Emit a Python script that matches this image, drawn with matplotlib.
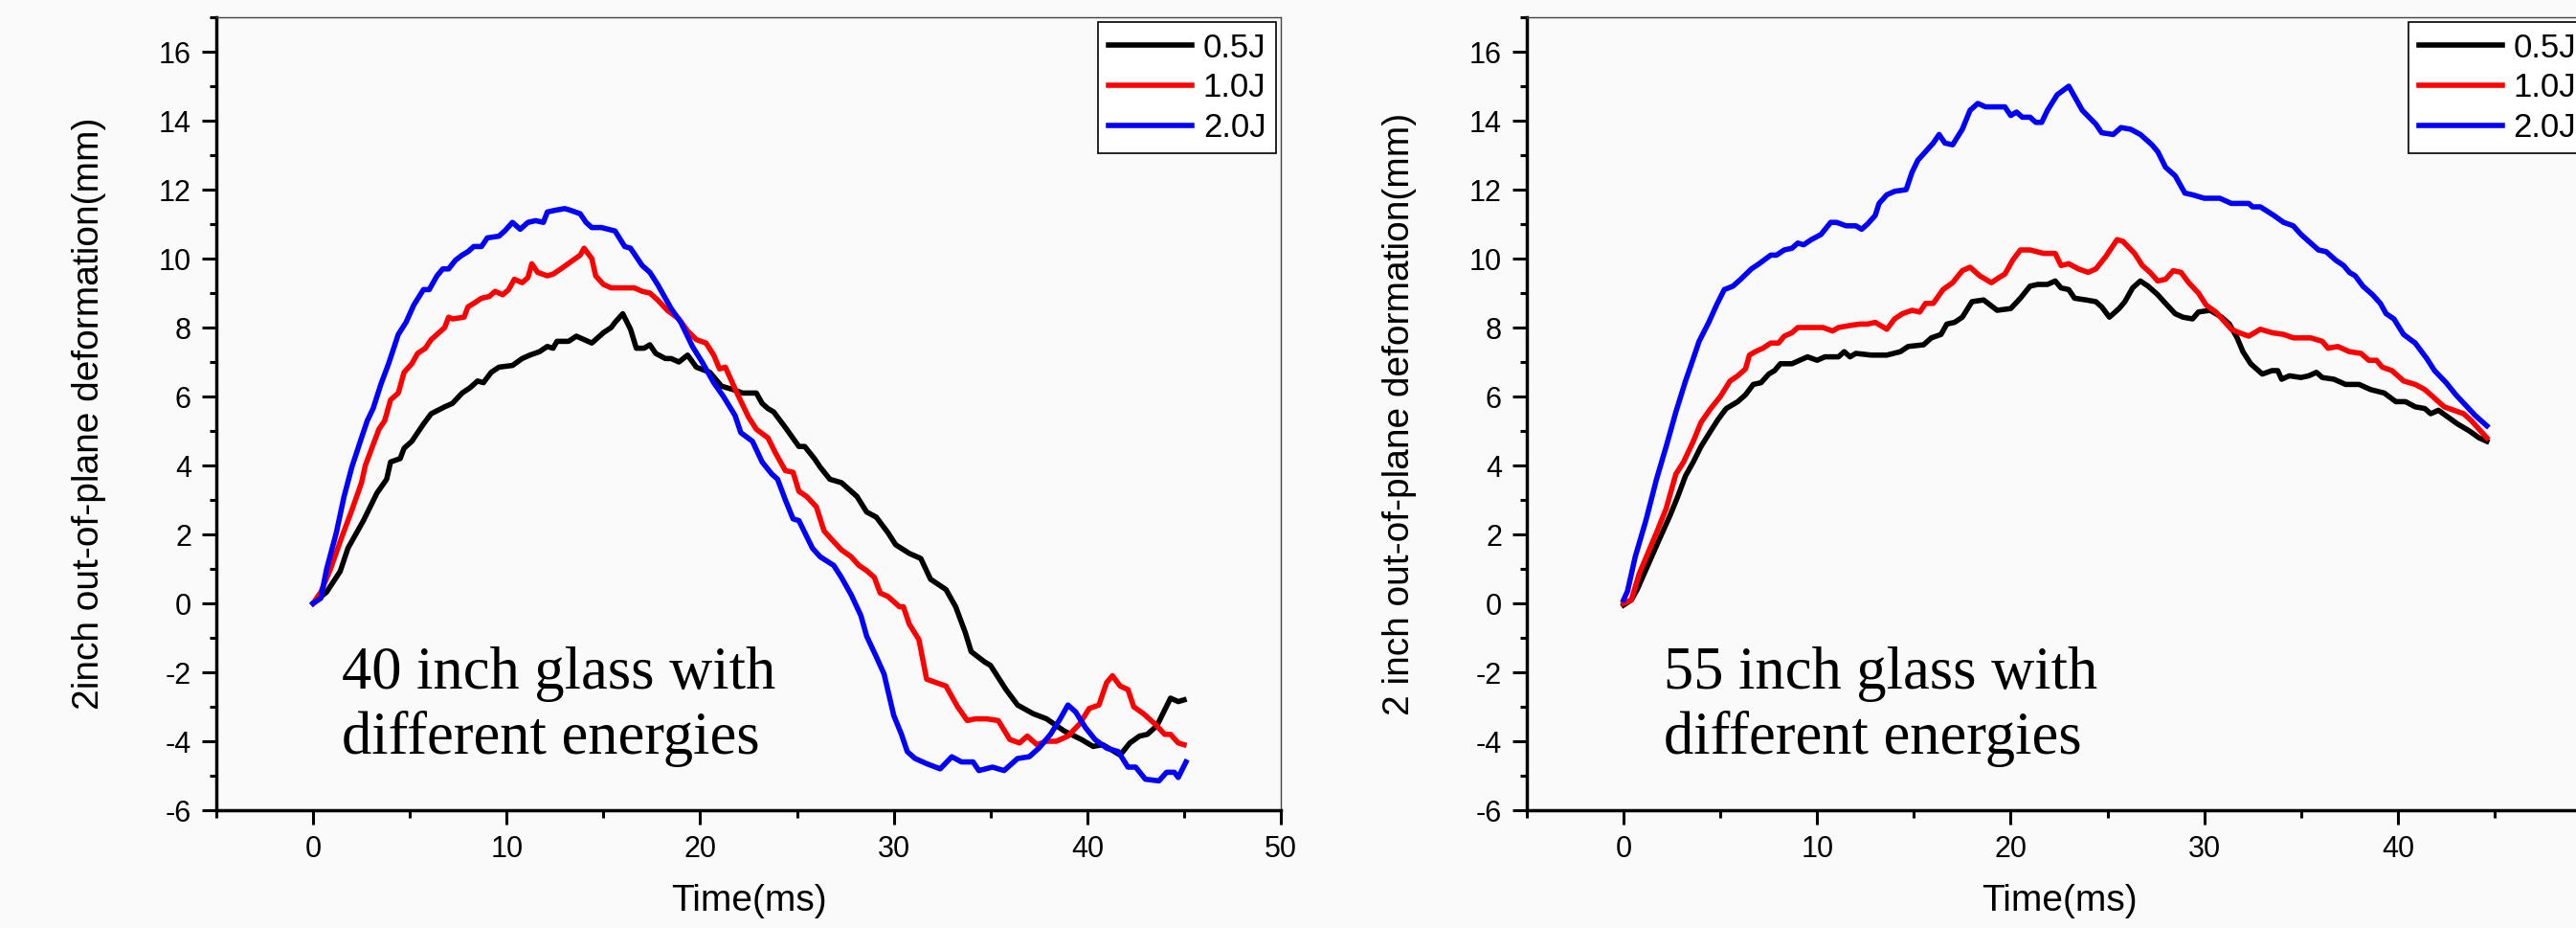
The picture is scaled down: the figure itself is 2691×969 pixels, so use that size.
import numpy as np
import matplotlib.pyplot as plt
from matplotlib.ticker import MultipleLocator, FixedLocator

plt.rcParams['font.family'] = 'Liberation Sans'
plt.rcParams['axes.unicode_minus'] = False

labels = ['0.5J', '1.0J', '2.0J']
colors = ['black', 'red', 'blue']

# 40 inch glass: (time ms, deformation mm)
g40_05 = [(0, 0), (0.7, 0.33), (1.4, 0.93), (1.8, 1.6), (2.6, 2.4), (3.3, 3.2), (3.8, 3.6),
          (4.0, 4.1), (4.5, 4.2), (4.7, 4.5), (5.1, 4.7), (5.7, 5.2), (6.1, 5.5), (6.8, 5.7),
          (7.2, 5.8), (7.7, 6.1), (8.1, 6.25), (8.5, 6.45), (8.8, 6.4), (9.2, 6.7), (9.6, 6.85),
          (10.3, 6.9), (10.8, 7.1), (11.2, 7.2), (11.7, 7.3), (12.1, 7.45), (12.4, 7.4),
          (12.6, 7.6), (13.2, 7.6), (13.6, 7.75), (14.0, 7.65), (14.4, 7.55), (15.0, 7.85),
          (15.4, 8.0), (15.6, 8.15), (16.0, 8.4), (16.4, 7.95), (16.7, 7.4), (17.1, 7.4),
          (17.4, 7.5), (17.7, 7.25), (18.2, 7.1), (18.5, 7.1), (18.9, 7.0), (19.35, 7.2),
          (19.8, 6.85), (20.5, 6.7), (21.1, 6.3), (21.7, 6.2), (22.2, 6.1), (22.9, 6.1),
          (23.2, 5.8), (23.5, 5.65), (23.8, 5.55), (24.4, 5.1), (25.1, 4.55), (25.4, 4.55),
          (25.9, 4.2), (26.2, 3.95), (26.7, 3.6), (27.3, 3.5), (27.8, 3.25), (28.1, 3.1),
          (28.6, 2.65), (29.1, 2.5), (29.7, 2.05), (30.1, 1.7), (30.8, 1.45), (31.4, 1.3),
          (31.9, 0.7), (32.7, 0.4), (33.2, -0.1), (33.7, -0.85), (34.0, -1.4), (34.7, -1.7),
          (35.0, -1.8), (35.8, -2.5), (36.4, -2.95), (37.2, -3.2), (37.9, -3.35), (38.8, -3.7),
          (39.7, -3.95), (40.3, -4.15), (40.8, -4.1), (41.7, -4.4), (42.2, -4.05), (42.7, -3.85),
          (43.1, -3.8), (43.6, -3.55), (44.3, -2.75), (44.7, -2.85), (45.0, -2.8)]
g40_10 = [(0, 0), (0.4, 0.33), (0.9, 1.0), (1.5, 1.95), (2.0, 2.7), (2.5, 3.5), (2.7, 4.0),
          (3.0, 4.45), (3.4, 5.05), (3.7, 5.3), (4.0, 5.9), (4.4, 6.1), (4.7, 6.7), (5.1, 6.95),
          (5.4, 7.25), (5.8, 7.4), (6.1, 7.65), (6.6, 7.9), (6.8, 8.0), (7.0, 8.3), (7.2, 8.25),
          (7.8, 8.3), (8.0, 8.6), (8.3, 8.7), (8.7, 8.85), (9.1, 8.9), (9.4, 9.05), (9.8, 8.95),
          (10.1, 9.1), (10.4, 9.4), (10.8, 9.3), (11.1, 9.45), (11.3, 9.85), (11.6, 9.6),
          (12.1, 9.5), (12.4, 9.55), (12.8, 9.7), (13.3, 9.9), (13.8, 10.1), (14.0, 10.3),
          (14.4, 10.0), (14.6, 9.5), (15.0, 9.25), (15.4, 9.15), (16.1, 9.15), (16.6, 9.15),
          (17.0, 9.05), (17.4, 9.0), (17.8, 8.8), (18.3, 8.5), (18.9, 8.25), (19.35, 7.9),
          (19.8, 7.65), (20.3, 7.55), (20.7, 7.2), (21.0, 6.8), (21.3, 6.85), (21.9, 6.1),
          (22.5, 5.4), (22.9, 5.05), (23.5, 4.8), (23.9, 4.35), (24.4, 3.85), (24.8, 3.8),
          (25.1, 3.25), (25.5, 3.1), (26.0, 2.8), (26.4, 2.1), (26.8, 1.85), (27.3, 1.55),
          (27.8, 1.35), (28.2, 1.1), (28.6, 0.95), (29.0, 0.75), (29.3, 0.3), (29.7, 0.2),
          (30.3, -0.1), (30.5, -0.1), (30.8, -0.6), (31.3, -1.05), (31.7, -2.2), (32.7, -2.4),
          (33.3, -3.0), (33.8, -3.4), (34.2, -3.35), (34.8, -3.35), (35.4, -3.4), (36.0, -3.95),
          (36.5, -4.05), (36.9, -3.85), (37.4, -4.1), (37.9, -4.0), (38.4, -4.0), (39.0, -3.85),
          (39.6, -3.5), (40.1, -3.05), (40.6, -2.95), (41.0, -2.3), (41.3, -2.1), (41.7, -2.4),
          (42.1, -2.5), (42.4, -3.0), (42.9, -3.2), (43.5, -3.5), (44.0, -3.8), (44.3, -3.8),
          (44.7, -4.05), (45.0, -4.1)]
g40_20 = [(0, 0), (0.4, 0.15), (0.7, 1.0), (1.2, 2.05), (1.6, 3.1), (2.0, 3.95), (2.5, 4.8),
          (2.8, 5.3), (3.1, 5.65), (3.5, 6.35), (3.9, 6.95), (4.4, 7.8), (4.8, 8.15), (5.2, 8.65),
          (5.7, 9.1), (6.0, 9.1), (6.4, 9.5), (6.7, 9.7), (7.0, 9.7), (7.35, 9.95), (7.7, 10.1),
          (8.0, 10.2), (8.3, 10.35), (8.7, 10.35), (9.0, 10.6), (9.6, 10.65), (9.9, 10.8),
          (10.3, 11.05), (10.7, 10.85), (11.1, 11.05), (11.5, 11.1), (11.9, 11.05), (12.1, 11.35),
          (12.5, 11.4), (13.0, 11.45), (13.3, 11.4), (13.8, 11.3), (14.1, 11.05), (14.4, 10.9),
          (14.9, 10.9), (15.6, 10.8), (16.1, 10.35), (16.4, 10.3), (17.0, 9.8), (17.4, 9.6),
          (17.8, 9.25), (18.3, 8.75), (18.5, 8.55), (19.0, 8.15), (19.6, 7.45), (20.1, 7.0),
          (20.7, 6.4), (21.2, 6.0), (21.8, 5.45), (22.1, 4.95), (22.7, 4.7), (23.2, 4.1),
          (23.7, 3.75), (24.0, 3.6), (24.4, 3.0), (24.8, 2.45), (25.1, 2.4), (25.8, 1.6),
          (26.2, 1.35), (26.9, 1.1), (27.3, 0.75), (27.8, 0.25), (28.3, -0.35), (28.6, -0.95),
          (29.1, -1.55), (29.5, -2.05), (30.0, -3.25), (30.4, -3.8), (30.7, -4.3), (31.1, -4.5),
          (31.7, -4.65), (32.4, -4.8), (33.0, -4.45), (33.5, -4.6), (34.1, -4.6), (34.4, -4.85),
          (35.1, -4.75), (35.7, -4.85), (36.4, -4.5), (37.0, -4.45), (37.5, -4.2), (38.1, -3.8),
          (38.6, -3.35), (39.0, -2.95), (39.4, -3.15), (39.9, -3.6), (40.4, -3.95), (41.0, -4.2),
          (41.6, -4.3), (42.1, -4.75), (42.5, -4.75), (43.0, -5.1), (43.7, -5.15), (44.1, -4.9),
          (44.5, -4.9), (44.7, -5.05), (45.1, -4.6)]

# 55 inch glass
g55_05 = [(0, -0.05), (0.4, 0.1), (0.7, 0.4), (1.25, 1.1), (1.8, 1.8), (2.4, 2.55), (2.8, 3.1),
          (3.2, 3.7), (3.6, 4.1), (4.0, 4.55), (4.5, 5.0), (4.9, 5.35), (5.3, 5.65), (5.9, 5.85),
          (6.3, 6.05), (6.7, 6.35), (7.1, 6.4), (7.5, 6.65), (7.8, 6.75), (8.1, 6.95), (8.7, 6.95),
          (9.1, 7.05), (9.5, 7.15), (10.0, 7.05), (10.4, 7.15), (11.1, 7.15), (11.4, 7.3),
          (11.7, 7.15), (12.0, 7.25), (12.8, 7.2), (13.6, 7.2), (14.3, 7.3), (14.7, 7.45),
          (15.5, 7.5), (15.9, 7.7), (16.4, 7.8), (16.7, 8.1), (17.1, 8.15), (17.5, 8.3),
          (18.0, 8.75), (18.6, 8.8), (19.3, 8.5), (20.0, 8.55), (20.5, 8.85), (21.0, 9.2),
          (21.4, 9.25), (21.9, 9.25), (22.3, 9.35), (22.6, 9.15), (23.0, 9.1), (23.3, 8.85),
          (23.9, 8.8), (24.4, 8.75), (24.7, 8.6), (25.1, 8.3), (25.6, 8.55), (25.9, 8.75),
          (26.3, 9.15), (26.7, 9.35), (27.1, 9.2), (27.6, 8.95), (28.0, 8.7), (28.5, 8.4),
          (28.9, 8.3), (29.4, 8.25), (29.7, 8.45), (30.3, 8.5), (30.9, 8.3), (31.3, 8.1),
          (31.7, 7.7), (32.0, 7.3), (32.4, 6.95), (33.0, 6.65), (33.5, 6.75), (33.8, 6.75),
          (34.0, 6.5), (34.4, 6.6), (35.0, 6.55), (35.4, 6.6), (35.8, 6.7), (36.1, 6.55),
          (36.7, 6.5), (37.3, 6.35), (38.0, 6.35), (38.6, 6.2), (39.3, 6.1), (39.9, 5.85),
          (40.4, 5.85), (40.9, 5.7), (41.4, 5.65), (41.7, 5.5), (42.1, 5.6), (42.6, 5.4),
          (43.1, 5.2), (43.7, 5.0), (44.2, 4.8), (44.6, 4.7)]
g55_10 = [(0, 0), (0.4, 0.1), (0.8, 0.85), (1.25, 1.45), (1.7, 2.05), (2.2, 2.75), (2.7, 3.75),
          (3.1, 4.1), (3.6, 4.7), (4.0, 5.25), (4.5, 5.65), (5.0, 6.0), (5.5, 6.45), (5.9, 6.6),
          (6.3, 6.8), (6.5, 7.2), (6.8, 7.3), (7.2, 7.4), (7.6, 7.55), (8.0, 7.55), (8.3, 7.75),
          (8.7, 7.85), (9.0, 8.0), (9.4, 8.0), (9.8, 8.0), (10.3, 8.0), (10.8, 7.9), (11.1, 8.0),
          (11.6, 8.05), (12.2, 8.1), (12.6, 8.1), (13.0, 8.15), (13.6, 7.95), (14.0, 8.25),
          (14.4, 8.4), (14.9, 8.5), (15.3, 8.45), (15.6, 8.7), (16.0, 8.7), (16.5, 9.1),
          (17.0, 9.3), (17.5, 9.65), (17.9, 9.75), (18.4, 9.5), (19.0, 9.3), (19.4, 9.45),
          (19.7, 9.55), (20.1, 9.95), (20.5, 10.25), (21.0, 10.25), (21.7, 10.15), (22.3, 10.15),
          (22.6, 9.8), (23.0, 9.85), (23.5, 9.7), (24.0, 9.6), (24.4, 9.7), (24.9, 10.05),
          (25.5, 10.55), (25.8, 10.5), (26.4, 10.15), (26.8, 9.8), (27.2, 9.6), (27.6, 9.35),
          (28.0, 9.4), (28.4, 9.65), (28.8, 9.6), (29.2, 9.3), (29.7, 9.0), (30.1, 8.65),
          (30.6, 8.45), (31.4, 7.95), (31.8, 7.85), (32.3, 7.75), (32.9, 7.95), (33.5, 7.85),
          (34.1, 7.8), (34.6, 7.7), (35.5, 7.7), (36.1, 7.6), (36.4, 7.4), (36.9, 7.45),
          (37.5, 7.3), (38.1, 7.25), (38.5, 7.05), (38.9, 7.05), (39.2, 6.85), (39.7, 6.75),
          (40.3, 6.45), (40.9, 6.35), (41.4, 6.2), (41.9, 5.95), (42.4, 5.7), (42.9, 5.6),
          (43.4, 5.5), (43.8, 5.3), (44.2, 5.05), (44.6, 4.8)]
g55_20 = [(0, 0.1), (0.2, 0.35), (0.6, 1.35), (1.15, 2.4), (1.7, 3.6), (2.2, 4.55), (2.7, 5.55),
          (3.2, 6.45), (3.6, 7.1), (3.9, 7.6), (4.4, 8.15), (4.8, 8.65), (5.2, 9.1), (5.65, 9.2),
          (6.05, 9.4), (6.6, 9.7), (7.0, 9.85), (7.6, 10.1), (7.9, 10.1), (8.3, 10.25), (8.7, 10.3),
          (9.0, 10.45), (9.3, 10.4), (9.7, 10.55), (10.2, 10.7), (10.7, 11.05), (11.0, 11.05),
          (11.5, 10.95), (12.0, 10.95), (12.3, 10.85), (12.6, 11.0), (13.0, 11.25), (13.2, 11.6),
          (13.6, 11.85), (14.0, 11.95), (14.6, 12.0), (14.9, 12.5), (15.2, 12.85), (15.6, 13.1),
          (16.0, 13.35), (16.3, 13.6), (16.6, 13.35), (17.0, 13.3), (17.5, 13.75), (17.9, 14.3),
          (18.3, 14.5), (18.7, 14.4), (19.7, 14.4), (20.0, 14.15), (20.3, 14.25), (20.6, 14.1),
          (21.0, 14.1), (21.3, 13.95), (21.6, 13.95), (21.9, 14.3), (22.4, 14.75), (23.0, 15.0),
          (23.4, 14.6), (23.7, 14.3), (24.4, 13.9), (24.7, 13.65), (25.3, 13.6), (25.7, 13.8),
          (26.2, 13.75), (26.7, 13.6), (27.3, 13.3), (27.6, 13.1), (28.0, 12.65), (28.5, 12.4),
          (29.0, 11.9), (29.4, 11.85), (30.0, 11.75), (30.8, 11.75), (31.4, 11.6), (32.0, 11.6),
          (32.3, 11.6), (32.5, 11.5), (32.9, 11.5), (33.6, 11.25), (34.1, 11.05), (34.6, 10.95),
          (35.0, 10.7), (35.6, 10.4), (35.9, 10.25), (36.3, 10.2), (36.8, 9.95), (37.2, 9.8),
          (37.5, 9.6), (37.8, 9.5), (38.2, 9.2), (38.7, 8.95), (39.1, 8.7), (39.4, 8.4),
          (39.8, 8.25), (40.3, 7.8), (40.9, 7.55), (41.5, 7.1), (41.9, 6.75), (42.5, 6.4),
          (43.0, 6.05), (43.5, 5.75), (44.0, 5.45), (44.6, 5.15)]

# major x ticks of each panel (the 55 inch panel is cut by the page edge past 40)
xticks_40 = [0, 10, 20, 30, 40, 50]
xticks_55 = [0, 10, 20, 30, 40]

bg = '#fafafa'
W, H = 2691, 969
fig = plt.figure(figsize=(W / 100, H / 100), dpi=100, facecolor=bg)
axL = fig.add_axes([226 / W, 123 / H, 1112 / W, 828 / H])
axR = fig.add_axes([1595 / W, 123 / H, 1112 / W, 828 / H])


def draw(ax, series, xticks, ylabel, note, note_x):
    for data, lab, c in zip(series, labels, colors):
        d = np.array(data)
        ax.plot(d[:, 0], d[:, 1], color=c, lw=4.0, label=lab)
    ax.set_facecolor(bg)
    ax.set_xlim(-5, 50)
    ax.set_ylim(-6, 17)
    ax.xaxis.set_major_locator(FixedLocator(xticks))
    ax.xaxis.set_minor_locator(MultipleLocator(5))
    ax.yaxis.set_major_locator(MultipleLocator(2))
    ax.yaxis.set_minor_locator(MultipleLocator(1))
    for s in ['left', 'bottom']:
        ax.spines[s].set_linewidth(2.5)
    for s in ['top', 'right']:
        ax.spines[s].set_linewidth(1.0)
        ax.spines[s].set_color('#444444')
    ax.tick_params(which='major', direction='out', length=10.8, width=2.2,
                   labelsize=22, pad=8)
    ax.tick_params(which='minor', direction='out', length=5.4, width=2.2)
    ax.set_xlabel('Time(ms)', fontsize=28)
    ax.xaxis.set_label_coords(0.5, -0.093)
    ax.set_ylabel(ylabel, fontsize=28)
    ax.yaxis.set_label_coords(-0.103, 0.5)
    ax.text(note_x, -4.36, note, family='Liberation Serif', fontsize=45,
            ha='left', va='baseline', linespacing=1.2)
    leg = ax.legend(loc='upper right', fontsize=25, handlelength=2.5,
                    handletextpad=0.35, labelspacing=0.25, borderpad=0.3,
                    borderaxespad=0.15, fancybox=False, framealpha=1,
                    edgecolor='black', facecolor='white')
    leg.get_frame().set_linewidth(1.2)


draw(axL, [g40_05, g40_10, g40_20], xticks_40, '2inch out-of-plane deformation(mm)',
     '40 inch glass with\ndifferent energies', 1.5)
draw(axR, [g55_05, g55_10, g55_20], xticks_55, '2 inch out-of-plane deformation(mm)',
     '55 inch glass with\ndifferent energies', 2.07)

fig.savefig('out.png', dpi=100, facecolor=bg)
